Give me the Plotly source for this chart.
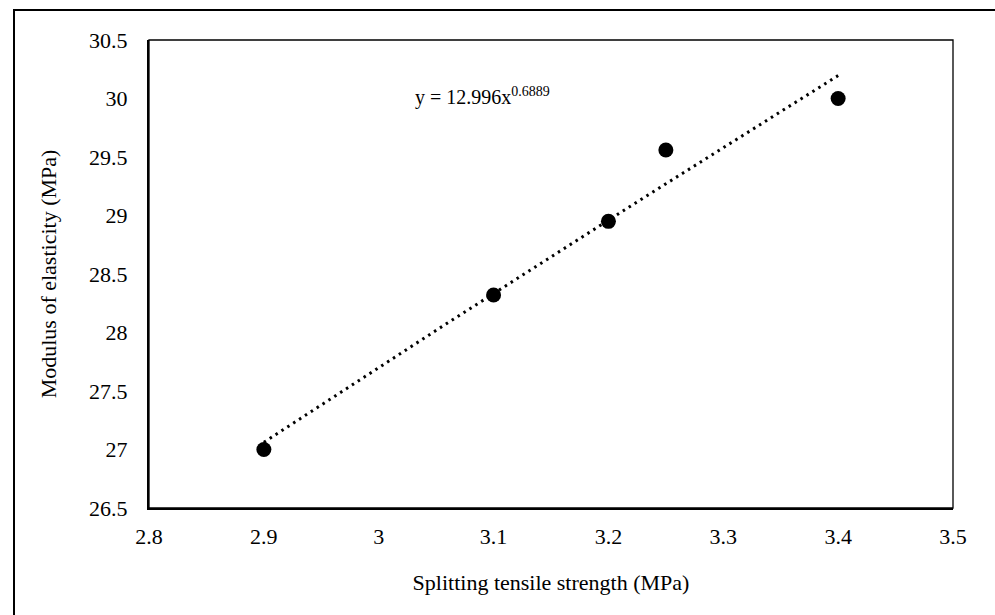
import numpy as np
import plotly.graph_objects as go

# Data
x_vals = [2.9, 3.1, 3.2, 3.25, 3.4]
y_vals = [27.0, 28.32, 28.95, 29.56, 30.0]
coef_a = 12.996
coef_b = 0.6889
x_ticks = [2.8, 2.9, 3.0, 3.1, 3.2, 3.3, 3.4, 3.5]
x_tick_labels = ["2.8", "2.9", "3", "3.1", "3.2", "3.3", "3.4", "3.5"]
y_ticks = [26.5, 27, 27.5, 28, 28.5, 29, 29.5, 30, 30.5]
y_tick_labels = ["26.5", "27", "27.5", "28", "28.5", "29", "29.5", "30", "30.5"]

FONT = "Liberation Serif, Times New Roman, serif"

trend_x = np.linspace(min(x_vals), max(x_vals), 60)
trend_y = coef_a * trend_x ** coef_b

fig = go.Figure()
fig.add_trace(go.Scatter(x=trend_x, y=trend_y, mode="lines",
                         line=dict(color="black", width=3, dash="2.5px,4.5px"),
                         hoverinfo="skip", showlegend=False))
fig.add_trace(go.Scatter(x=x_vals, y=y_vals, mode="markers",
                         marker=dict(color="black", size=15),
                         showlegend=False))

L, R, T, B = 149, 42, 40, 107
W, H = 995, 615
pw, ph = W - L - R, H - T - B

fig.update_layout(
    width=W, height=H,
    margin=dict(l=L, r=R, t=T, b=B),
    paper_bgcolor="white", plot_bgcolor="white",
    font=dict(family=FONT, size=22, color="black"),
    xaxis=dict(range=[2.8, 3.5], tickvals=x_ticks, ticktext=x_tick_labels,
               showgrid=False, zeroline=False, showline=True, linecolor="black",
               linewidth=2, ticks="", ticklabelstandoff=8,
               tickfont=dict(family=FONT, size=22, color="black"),
               title=dict(text="Splitting tensile strength (MPa)", standoff=26,
                          font=dict(family=FONT, size=22, color="black"))),
    yaxis=dict(range=[26.5, 30.5], tickvals=y_ticks, ticktext=y_tick_labels,
               showgrid=False, zeroline=False, showline=True, linecolor="black",
               linewidth=2, ticks="", ticklabelstandoff=15,
               tickfont=dict(family=FONT, size=22, color="black"),
               title=dict(text="Modulus of elasticity (MPa)", standoff=26,
                          font=dict(family=FONT, size=22, color="black"))),
    shapes=[
        dict(type="rect", xref="paper", yref="paper", x0=0, x1=1, y0=0, y1=1,
             line=dict(color="black", width=1.3), fillcolor="rgba(0,0,0,0)", layer="above"),
        dict(type="rect", xref="paper", yref="paper",
             x0=(14 - L) / pw, x1=(W + 5 - L) / pw,
             y0=(H - B - (H + 5)) / ph, y1=(H - B - 10) / ph,
             line=dict(color="black", width=2), fillcolor="rgba(0,0,0,0)"),
    ],
    annotations=[
        dict(text=f"y = {coef_a}x<sup>{coef_b}</sup>", xref="paper", yref="paper",
             x=(413 - L) / pw, y=(H - B - 96) / ph, xanchor="left", yanchor="middle",
             showarrow=False, font=dict(family=FONT, size=20, color="black")),
    ],
)

fig.write_html("out.html")
